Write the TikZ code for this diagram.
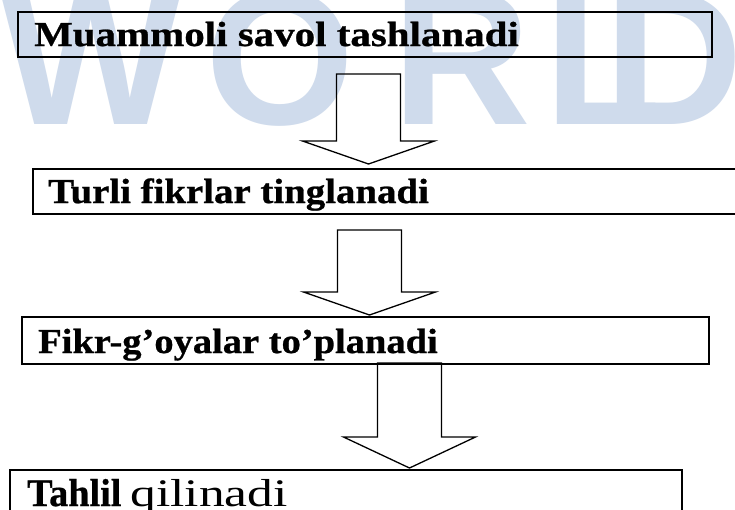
\documentclass[tikz,border=0pt]{standalone}
\usepackage{fontspec}
\setmainfont{Liberation Serif}[BoldFeatures={FakeBold=0.7}]
\newfontfamily\wmfont{Liberation Sans}
\definecolor{wmblue}{RGB}{207,219,236}
\tikzset{
  box/.style={draw=black, line width=1.8pt, anchor=north west, inner sep=0pt},
  lbl/.style={anchor=base west, inner sep=0pt, font=\fontsize{35}{35}\selectfont\bfseries},
  lblbig/.style={anchor=base west, inner sep=0pt, font=\fontsize{39}{39}\selectfont},
  wm/.style={anchor=base west, inner sep=0pt, text=wmblue, font=\wmfont\fontsize{192}{192}\selectfont\bfseries},
  barrow/.style={draw=black, line width=1.3pt, line join=miter}
}
\newcommand\blockarr[5]{%
  \draw[barrow] (#1-32,#2) -- (#1+32,#2) -- (#1+32,#3) -- (#1+66,#3)
     -- (#1,#4) -- (#1-66,#3) -- (#1-32,#3) -- cycle;
  \coordinate (#5) at (#1,#4);}
\begin{document}
\begin{tikzpicture}[x=1pt,y=-1pt]
\useasboundingbox (0,0) rectangle (735,509);
\clip (0,0) rectangle (735,509);
\fill[white] (0,0) rectangle (735,509);
% watermark
\node[wm] (w1) at (0,124) {W};
\node[wm] (w2) at (205,124) {O};
\node[wm] (w3) at (392,124) {R};
\node[wm] (w4) at (544,124) {L};
\node[wm] (w5) at (604,124) {D};
% boxes
\node[box, minimum width=694pt, minimum height=45pt] (b1) at (17,11) {};
\node[box, minimum width=760pt, minimum height=45pt] (b2) at (32,168) {};
\node[box, minimum width=687pt, minimum height=47pt] (b3) at (21,316) {};
\node[box, minimum width=672pt, minimum height=60pt] (b4) at (9,469) {};
% labels
\node[lbl] (t1) at (34,46) {\scalebox{1.17}[1]{Muammoli savol tashlanadi}};
\node[lbl] (t2) at (48,203) {\scalebox{1.11}[1]{Turli fikrlar tinglanadi}};
\node[lbl] (t3) at (38,353) {\scalebox{1.10}[1]{Fikr-g’oyalar to’planadi}};
\node[lblbig] (t4) at (27,506) {\scalebox{0.98}[1]{\bfseries Tahlil}\hspace{9pt}\scalebox{1.32}[1]{qilinadi}};
% arrows
\blockarr{368.5}{74}{141}{164}{a1}
\blockarr{369.5}{230}{292}{315}{a2}
\blockarr{409.5}{363}{437}{468}{a3}
\end{tikzpicture}
\end{document}
